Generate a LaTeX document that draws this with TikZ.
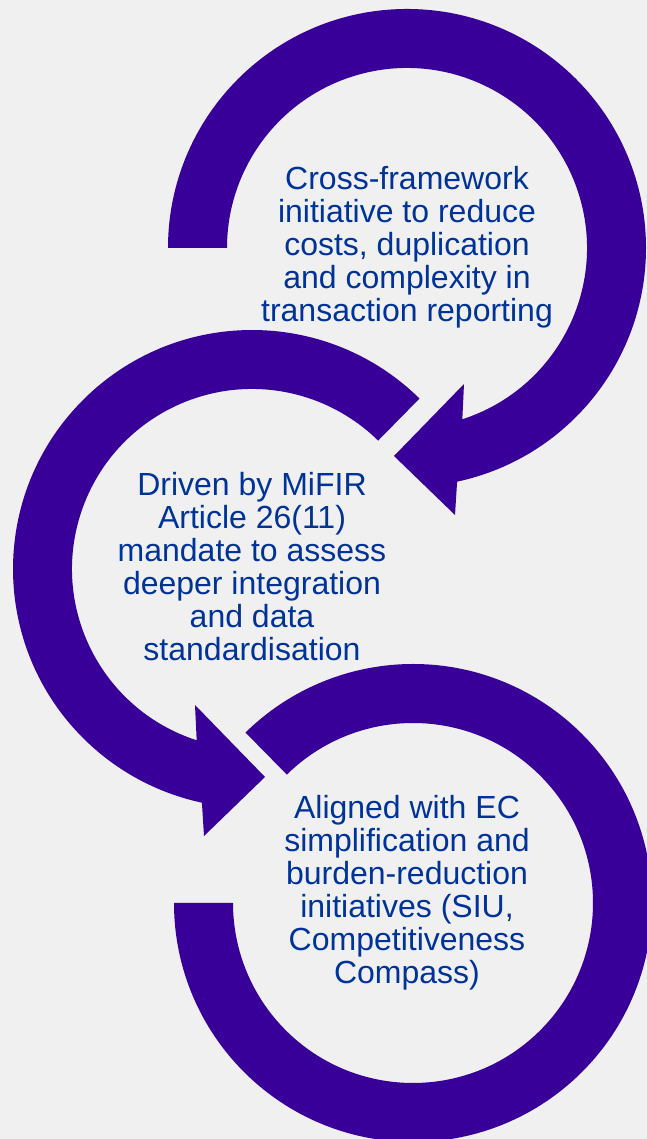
\documentclass[tikz,border=0pt]{standalone}
\usepackage{fontspec}
\setmainfont{Liberation Sans}
\definecolor{pagebg}{RGB}{240,240,240}
\definecolor{ringviolet}{RGB}{56,0,153}
\definecolor{captionblue}{RGB}{0,51,153}
\begin{document}
\begin{tikzpicture}[x=1pt,y=1pt,
  ring/.style={fill=ringviolet},
  caption/.style={text=captionblue, font=\fontsize{32}{33}\selectfont,
    inner sep=0pt, anchor=base}]
\useasboundingbox (0,0) rectangle (647,1139);
\fill[pagebg] (0,0) rectangle (647,1139);
\begin{scope}
\clip (0,0) rectangle (647,1139);
% top ring: clockwise from the left, arrowhead at the bottom
\begin{scope}[shift={(407,891)}]
  \fill[ring] (180:239pt) arc[start angle=180, end angle=-77.9, radius=239pt]
    -- (48,-267) -- (-13,-208) -- (57,-136) -- (-72.1:180pt)
    arc[start angle=-72.1, end angle=180, radius=180pt] -- cycle;
\end{scope}
% middle ring: anticlockwise from the upper right, arrowhead at the bottom
\begin{scope}[shift={(252,570)}]
  \fill[ring] (45.5:239pt) arc[start angle=45.5, end angle=257.9, radius=239pt]
    -- (-48,-267) -- (13,-208) -- (-57,-136) -- (252.1:180pt)
    arc[start angle=252.1, end angle=45.5, radius=180pt] -- cycle;
\end{scope}
% bottom ring: open ring from the left round to the upper left
\begin{scope}[shift={(413,236)}]
  \fill[ring] (180:239pt) arc[start angle=180, end angle=494.5, radius=239pt]
    -- (134.5:180pt)
    arc[start angle=494.5, end angle=180, radius=180pt] -- cycle;
\end{scope}
\end{scope}
% captions
\node[caption] (t1) at (407,949) {\parbox[t]{420pt}{\centering
  Cross-framework\\ initiative to reduce\\ costs, duplication\\
  and complexity in\\ transaction reporting}};
\node[caption] (t2) at (252,643) {\parbox[t]{420pt}{\centering
  Driven by MiFIR\\ Article 26(11)\\ mandate to assess\\
  deeper integration\\ and data\\ standardisation}};
\node[caption] (t3) at (407,320) {\parbox[t]{420pt}{\centering
  Aligned with EC\\ simplification and\\ burden-reduction\\
  initiatives (SIU,\\ Competitiveness\\ Compass)}};
\end{tikzpicture}
\end{document}
